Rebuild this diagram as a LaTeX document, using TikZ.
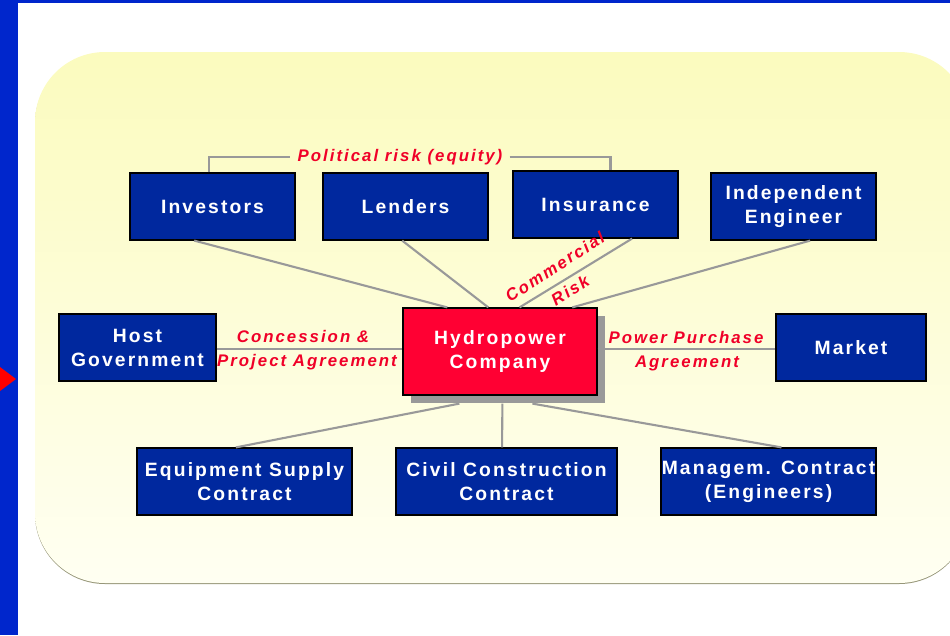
\documentclass[tikz,border=0pt]{standalone}
\usepackage{fontspec}
\usepackage{tikz}
\usetikzlibrary{calc}
\usetikzlibrary{shadows}
\usetikzlibrary{positioning}
\newfontfamily\diagfont[LetterSpace=11]{Liberation Sans}
\newfontfamily\riskfont[LetterSpace=12]{Liberation Sans}
\definecolor{framebar}{RGB}{0, 38, 204}
\definecolor{boxblue}{RGB}{0, 40, 158}
\definecolor{hydrored}{RGB}{255, 0, 51}
\definecolor{labelred}{RGB}{240, 0, 40}
\definecolor{linkgray}{RGB}{153, 153, 153}
\definecolor{paneltop}{RGB}{251, 251, 190}
\definecolor{panelbottom}{RGB}{255, 255, 242}
\definecolor{panelrim}{RGB}{150, 150, 120}

\tikzset{
  party/.style={draw=black, line width=1.2pt, fill=boxblue, text=white, align=center,
                font=\diagfont\bfseries\fontsize{19.3}{24}\selectfont,
                minimum height=67pt, inner sep=0pt},
  hub/.style={party, fill=hydrored, minimum width=194pt, minimum height=87pt,
              drop shadow={shadow xshift=8pt, shadow yshift=-8pt, fill=linkgray, opacity=1}},
  link/.style={draw=linkgray, line width=2.1pt},
  risk/.style={text=labelred, align=center, inner sep=0pt,
               font=\riskfont\bfseries\itshape\fontsize{16.8}{20}\selectfont}
}

\begin{document}
\begin{tikzpicture}[x=1pt, y=-1pt]
  \useasboundingbox (0,0) rectangle (950,635);
  % page frame and panel
  \begin{scope}
    \clip (0,0) rectangle (950,635);
    \fill[panelrim] (35,54) [rounded corners=70pt] rectangle (969,584);
    \shade[top color=paneltop, bottom color=panelbottom, rounded corners=70pt] (35,52) rectangle (969,583);
  \end{scope}
  \fill[framebar] (0,0) rectangle (18,635);
  \fill[framebar] (0,0) rectangle (950,3);
  \fill[red] (0,367) -- (16,379) -- (0,391) -- cycle;

  % parties
  \node[party, minimum width=165pt] (inv)   at (212.5,206.5) {Investors};
  \node[party, minimum width=165pt] (lend)  at (405.5,206.5) {Lenders};
  \node[party, minimum width=165pt] (ins)   at (595.5,204.5) {Insurance};
  \node[party, minimum width=165pt] (eng)   at (793.5,206.5) {Independent\\Engineer};
  \node[party, minimum width=157pt] (host)  at (137.5,347.5) {Host\\Government};
  \node[party, minimum width=150pt] (mkt)   at (851,347.5)   {Market};
  \node[party, minimum width=215pt] (equip) at (244.5,481.5) {Equipment Supply\\Contract};
  \node[party, minimum width=221pt] (civil) at (506.5,481.5) {Civil Construction\\Contract};
  \node[party, minimum width=215pt] (mgmt)  at (768.5,481.5) {Managem. Contract\\(Engineers)};
  \node[hub] (hydro) at (500,351.5) {Hydropower\\Company};

  % connectors
  \draw[link] ($(inv.south west)!0.39!(inv.south east)$)   -- ($(hydro.north west)!0.23!(hydro.north east)$);
  \draw[link] ($(lend.south west)!0.48!(lend.south east)$) -- ($(hydro.north west)!0.44!(hydro.north east)$);
  \draw[link] ($(ins.south west)!0.72!(ins.south east)$)   -- ($(hydro.north west)!0.60!(hydro.north east)$);
  \draw[link] ($(eng.south west)!0.60!(eng.south east)$)   -- ($(hydro.north west)!0.87!(hydro.north east)$);
  \draw[link] ($(host.east)+(0,1.5)$) -- ($(host.east -| hydro.west)+(0,1.5)$);
  \draw[link] ($(mkt.west -| hydro.east)+(0,1.5)$) -- ($(mkt.west)+(0,1.5)$);
  \draw[link] ($(hydro.south west)+(57,8)$)  -- ($(equip.north west)!0.46!(equip.north east)$);
  \draw[link] ($(hydro.south west)+(100,8)$) -- ($(civil.north west)!0.48!(civil.north east)$);
  \draw[link] ($(hydro.south west)+(130,8)$) -- ($(mgmt.north west)!0.56!(mgmt.north east)$);

  % risk labels
  \node[risk, inner xsep=7pt] (pol) at (400,157) {Political risk (equity)};
  \draw[link] ($(inv.north west)!0.48!(inv.north east)$) |- (pol.west);
  \draw[link] (pol.east) -| ($(ins.north west)!0.59!(ins.north east)$);
  \node[risk] (conc) at (303,336) {Concession \&};
  \node[risk] (proj) at (307,362) {Project Agreement};
  \node[risk] (ppa)  at (686,337) {Power Purchase};
  \node[risk] (agr)  at (687,363) {Agreement};
  \node[risk, rotate=33, font=\riskfont\bfseries\itshape\fontsize{16.8}{28}\selectfont] (comm) at (562.5,278.5) {Commercial\\Risk};
\end{tikzpicture}
\end{document}
